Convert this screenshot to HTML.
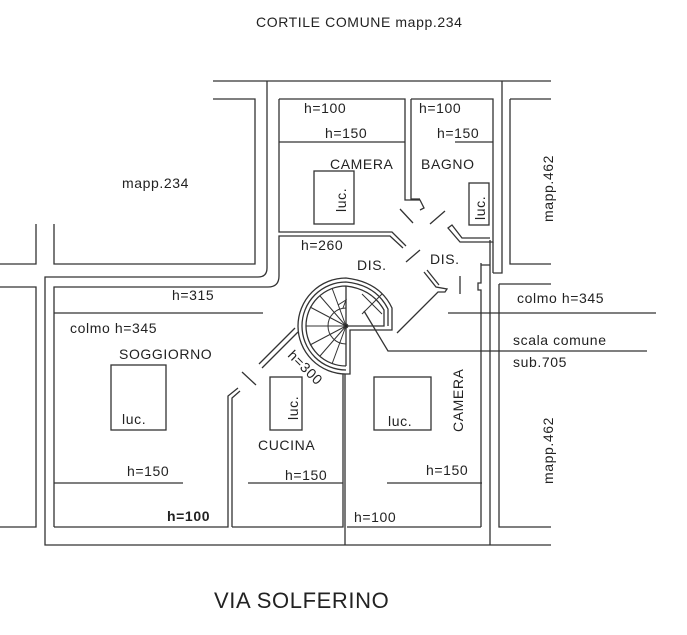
<!DOCTYPE html>
<html><head><meta charset="utf-8"><style>
html,body{margin:0;padding:0;background:#fff;width:687px;height:635px;overflow:hidden}
svg{display:block}
text{font-family:"Liberation Sans",Arial,sans-serif;fill:#222}
</style></head><body>
<svg width="687" height="635" viewBox="0 0 687 635" xmlns="http://www.w3.org/2000/svg">
<g fill="none" stroke="#333" stroke-width="1.3">
<path d="M213 81 H551"/>
<path d="M213 99 H255 V264 H54 V224"/>
<path d="M267 81 V268 Q267 277 258 277 H45 V545 H551"/>
<path d="M36 224 V264 H0"/>
<path d="M0 287 H36 V527 H0"/>
<path d="M54 527 V287 H268 Q279 287 279 276 V236 H390 L403 248"/>
<path d="M54 527 H228 V396 L238 388"/>
<path d="M232 527 V398 L240 391"/>
<path d="M232 527 H343 V374"/>
<path d="M345 545 V374"/>
<path d="M347 527 H481"/>
<path d="M279 99 H405 V200 H420 L424 208 L420 210"/>
<path d="M279 99 V232 H392 L400 240 L406 246"/>
<path d="M411 99 H493 V242 H460 L448 228 L452 225 L462 238 H490"/>
<path d="M411 99 V199 H420"/>
<path d="M502 81 V273 H493"/>
<path d="M510 99 H551 M510 99 V264 H551"/>
<path d="M499 284 H551 M499 284 V527 H551"/>
<path d="M490 240 V545"/>
<path d="M493 242 V273"/>
<path d="M481 265 H490 M481 263 V283 H478 V290 H481 V527"/>
<path d="M262 368 L298 332 M259 364 L295 328"/>
<path d="M424 272 L436 287 L447 289 L445 292 L438 292 L397 333"/>
<path d="M427 270 L439 285"/>
<path d="M400 209 L413 223 M430 224 L445 211 M406 262 L420 250 M460 276 V294 M242 372 L256 385"/>
<path d="M279 142 H405 M455 142 H493"/>
<path d="M54 313 H263"/>
<path d="M54 483 H183 M248 483 H343 M387 483 H482"/>
<path d="M448 313 H656"/>
<path d="M364 311 L388 351 H647"/>
<rect x="314" y="171" width="40" height="53"/>
<rect x="469" y="183" width="20" height="42"/>
<rect x="111" y="365" width="55" height="65"/>
<rect x="270" y="377" width="32" height="53"/>
<rect x="374" y="377" width="57" height="53"/>
<!-- staircase -->
<path d="M346 278 A48 48 0 1 0 346 374 H350 V330 H392 V308 Q380 282 346 278 Z"/>
<path d="M346 282 A44 44 0 1 0 346 370 M346 282 Q376 285 388 309 V326"/>
<path d="M346 286 A40 40 0 1 0 346 366 M346 286 Q372 289 384 310 V326 H346"/>
<path d="M346 286 V366"/>
<g stroke-width="1">
<path d="M346 308 A18 18 0 0 0 346 344"/>
<path d="M346 326 L332 288 M346 326 L320 296 M346 326 L310 307 M346 326 L306 326 M346 326 L310 345 M346 326 L320 356 M346 326 L332 364"/>
<path d="M338 305 L346 300 L343 308"/>
<path d="M362 294 L382 314 M382 294 L362 314"/>
</g>
<circle cx="346" cy="326" r="1.8" fill="#222"/>
</g>
<g font-size="14" letter-spacing="0.6">
<text x="256" y="27">CORTILE COMUNE mapp.234</text>
<text x="122" y="188">mapp.234</text>
<text x="304" y="113">h=100</text>
<text x="325" y="138">h=150</text>
<text x="419" y="113">h=100</text>
<text x="437" y="138">h=150</text>
<text x="330" y="169">CAMERA</text>
<text x="421" y="169">BAGNO</text>
<text x="301" y="250">h=260</text>
<text x="357" y="270">DIS.</text>
<text x="430" y="264">DIS.</text>
<text x="172" y="300">h=315</text>
<text x="70" y="333">colmo h=345</text>
<text x="119" y="359">SOGGIORNO</text>
<text x="122" y="424">luc.</text>
<text x="258" y="450">CUCINA</text>
<text x="127" y="476">h=150</text>
<text x="285" y="480">h=150</text>
<text x="426" y="475">h=150</text>
<text x="167" y="521" font-weight="bold">h=100</text>
<text x="354" y="522">h=100</text>
<text x="388" y="426">luc.</text>
<text x="517" y="303">colmo h=345</text>
<text x="513" y="345">scala comune</text>
<text x="513" y="367">sub.705</text>
<text transform="translate(346,212) rotate(-90)">luc.</text>
<text transform="translate(485,220) rotate(-90)">luc.</text>
<text transform="translate(298,420) rotate(-90)">luc.</text>
<text transform="translate(463,432) rotate(-90)">CAMERA</text>
<text transform="translate(553,222) rotate(-90)">mapp.462</text>
<text transform="translate(553,484) rotate(-90)">mapp.462</text>
<text transform="translate(287,356) rotate(45)">h=300</text>
</g>
<text x="214" y="608" font-size="22" letter-spacing="0.6">VIA SOLFERINO</text>
</svg>
</body></html>
